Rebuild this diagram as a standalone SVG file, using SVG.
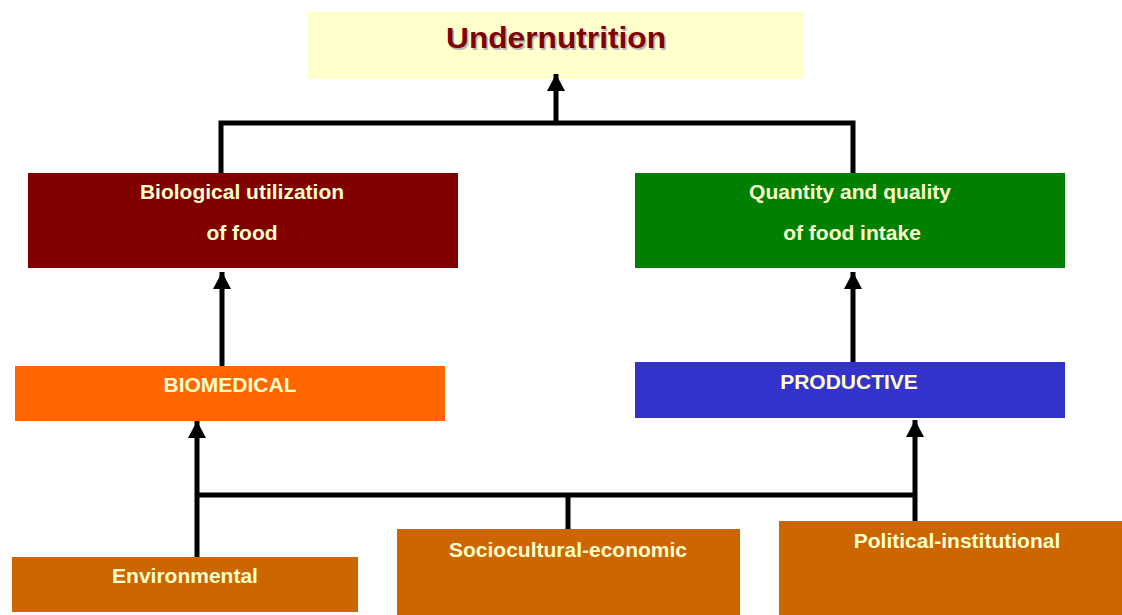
<svg xmlns="http://www.w3.org/2000/svg" width="1122" height="615" viewBox="0 0 1122 615">
<style>
.lbl{font-family:"Liberation Sans",Arial,sans-serif;font-weight:bold;font-size:21px;fill:#FFFFCC;text-anchor:middle}
.title{font-family:"Liberation Sans",Arial,sans-serif;font-weight:bold;font-size:30px;text-anchor:middle}
.ln{stroke:#000;stroke-width:5;fill:none}
</style>
<defs>
<marker id="ah" markerUnits="userSpaceOnUse" markerWidth="18" markerHeight="18" viewBox="0 0 18 18" refX="17" refY="9" orient="auto">
<path d="M0,0 L17,9 L0,18 z" fill="#000"/>
</marker>
</defs>
<rect width="1122" height="615" fill="#fff"/>
<g id="undernutrition">
<rect x="308" y="12" width="496" height="67" fill="#FFFFCC"/>
<text class="title" x="557.5" y="49.5" fill="#b8b8b8" textLength="220" lengthAdjust="spacingAndGlyphs">Undernutrition</text>
<text class="title" x="556" y="48" fill="#800000" textLength="220" lengthAdjust="spacingAndGlyphs">Undernutrition</text>
</g>
<g id="biological">
<rect x="28" y="173" width="430" height="95" fill="#800000"/>
<text class="lbl" x="242" y="199">Biological utilization</text>
<text class="lbl" x="242" y="240">of food</text>
</g>
<g id="quantity">
<rect x="635" y="173" width="430" height="95" fill="#008000"/>
<text class="lbl" x="850" y="199">Quantity and quality</text>
<text class="lbl" x="852" y="240">of food intake</text>
</g>
<g id="biomedical">
<rect x="15" y="366" width="430" height="55" fill="#FF6600"/>
<text class="lbl" x="230" y="392">BIOMEDICAL</text>
</g>
<g id="productive">
<rect x="635" y="362" width="430" height="56" fill="#3333CC"/>
<text class="lbl" x="849" y="389">PRODUCTIVE</text>
</g>
<g id="environmental">
<rect x="12" y="557" width="346" height="55" fill="#CC6600"/>
<text class="lbl" x="185" y="583">Environmental</text>
</g>
<g id="sociocultural">
<rect x="397" y="529" width="343" height="86" fill="#CC6600"/>
<text class="lbl" x="568" y="557">Sociocultural-economic</text>
</g>
<g id="political">
<rect x="779" y="521" width="343" height="94" fill="#CC6600"/>
<text class="lbl" x="957" y="548">Political-institutional</text>
</g>
<g id="connectors">
<path class="ln" d="M221,173 V123 H853 V173"/>
<path class="ln" d="M556,123 V74" marker-end="url(#ah)"/>
<path class="ln" d="M222,366 V272" marker-end="url(#ah)"/>
<path class="ln" d="M853,362 V272" marker-end="url(#ah)"/>
<path class="ln" d="M197,557 V421" marker-end="url(#ah)"/>
<path class="ln" d="M915,521 V420" marker-end="url(#ah)"/>
<path class="ln" d="M197,495 H915"/>
<path class="ln" d="M568,495 V529"/>
</g>
</svg>
